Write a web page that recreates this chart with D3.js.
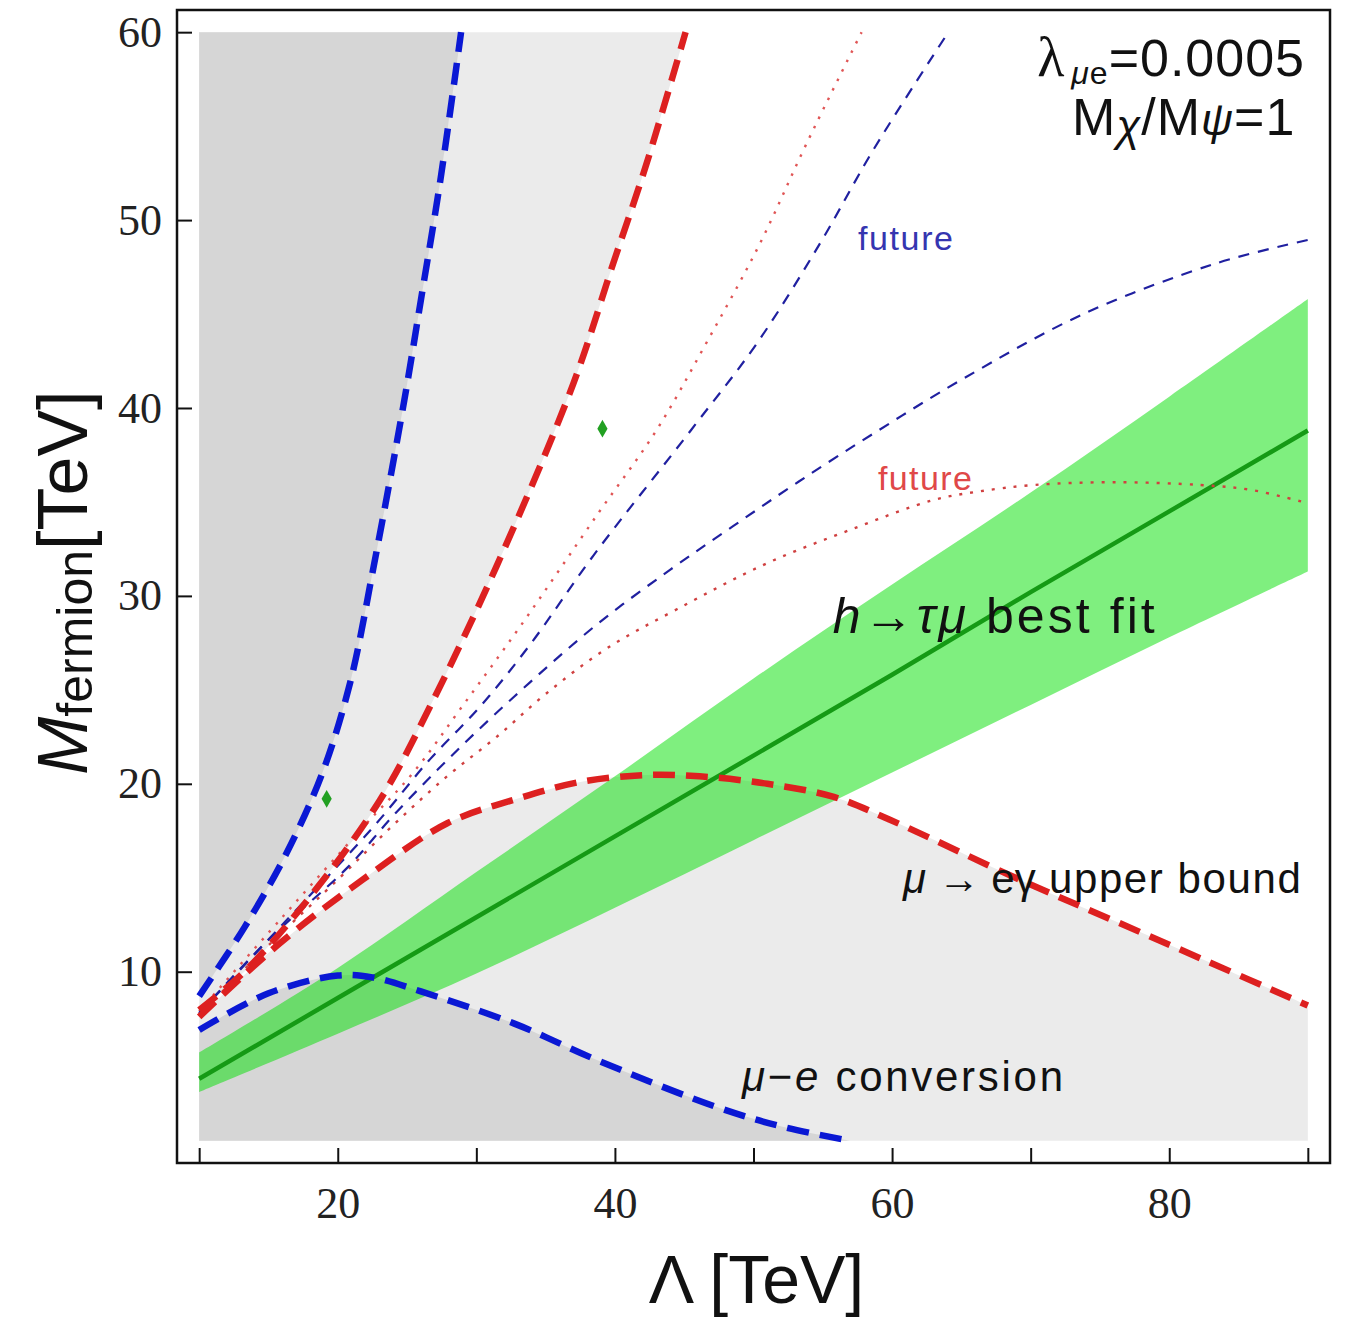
<!DOCTYPE html>
<html>
<head>
<meta charset="utf-8">
<script src="https://cdn.jsdelivr.net/npm/d3@7"></script>
<style>
body { margin: 0; background: #fff; }
svg { display: block; }
.sans { font-family: "Liberation Sans", Arial, sans-serif; }
.serif { font-family: "Liberation Serif", "Times New Roman", serif; }
</style>
</head>
<body>
<div id="chart"></div>
<script>
// ---- data (Lambda [TeV], M_fermion [TeV]) ----
const xTicks = [10, 20, 30, 40, 50, 60, 70, 80, 90];
const xTickLabels = [20, 40, 60, 80];
const yTicks = [10, 20, 30, 40, 50, 60];

// h -> tau mu best fit band
const bandLambda = [10, 20, 30, 40, 50, 60, 70, 80, 90];
const bandLow = [3.6, 6.7, 9.9, 13.4, 17.0, 20.6, 24.2, 27.8, 31.3];
const bandHigh = [5.7, 10.2, 15.3, 20.4, 25.6, 30.6, 35.5, 40.6, 45.8];
const bestFit = [4.3, 8.6, 12.9, 17.2, 21.5, 25.8, 30.2, 34.5, 38.8];

// mu-e conversion (thick blue)
const muEUpper = [[10, 8.7], [13.3, 12.4], [16.3, 16.3], [18.9, 20.6], [20.9, 25.4], [22.6, 31.6],
    [24.8, 40.4], [26.0, 45.75], [27.4, 52.1], [28.9, 60]];
const muELower = [[10, 6.9], [15, 8.85], [20, 9.8], [22.5, 9.7], [26, 8.95], [32.7, 7.25],
    [38.7, 5.3], [47.3, 2.81], [52.1, 1.75], [57, 1.0]];

// mu -> e gamma upper bound (thick red)
const megUpper = [[10, 7.96], [13.4, 10.1], [18.2, 14.17], [23.05, 19.14], [26.65, 24.1], [31.47, 31.6],
    [37.0, 41.3], [39.88, 47.7], [42.29, 53.02], [45.1, 60]];
const megLower = [[10, 7.6], [15.8, 11.5], [21.8, 14.9], [27.9, 17.9], [32.7, 19.15], [37.5, 20.1],
    [42.3, 20.47], [46.1, 20.4], [51, 20.0], [55.8, 19.3], [59.8, 18.1], [69.2, 14.9],
    [75.9, 12.75], [82.6, 10.6], [90, 8.2]];

// future sensitivities
const megFutureUpper = [[10, 7.9], [16, 12.9], [21.84, 17.7], [25.45, 20.6], [29.06, 24.2], [33.15, 28.36],
    [38.8, 34.4], [43.01, 38.83], [46.7, 43.6], [50.47, 48.76], [53.84, 54.09], [57.8, 60]];
const megFutureLower = [[10, 7.7], [15, 11.4], [20, 14.9], [24, 17.8], [27.86, 20.38], [31.47, 22.5],
    [35.07, 24.82], [39.4, 27.2], [44.5, 29.3], [50.95, 31.73], [56.96, 33.51], [62.97, 35.1],
    [66.1, 35.54], [70.19, 35.9], [76, 36.05], [82.27, 35.9], [86, 35.63], [90, 34.93]];
const muEFutureUpper = [[10, 7.8], [16, 12.5], [22.56, 17.7], [26.65, 21.3], [30.26, 24.1], [33.87, 27.4],
    [38.5, 32.2], [45.5, 38.83], [50.3, 43.5], [54.8, 48.76], [58.64, 53.73], [64.06, 60]];
const muEFutureLower = [[10, 7.8], [15, 11.7], [20.64, 15.5], [24.25, 18.5], [29.06, 22.1], [33.87, 25.4],
    [38.8, 28.54], [44, 31.4], [48.5, 33.7], [53.3, 36.1], [59, 38.8], [65, 41.5],
    [73.8, 45.0], [83.4, 47.7], [90, 48.94]];

const markers = [[19.2, 19.2], [39.1, 38.9]];

// ---- layout ----
const width = 1345, height = 1322;
const frame = { left: 177, top: 10, right: 1330, bottom: 1163 };
const x = d3.scaleLinear().domain([8.4, 91.6]).range([frame.left, frame.right]);
const y = d3.scaleLinear().domain([-0.18, 61.18]).range([frame.bottom, frame.top]);

const svg = d3.select('#chart').append('svg')
    .attr('width', width)
    .attr('height', height);

svg.append('defs').append('clipPath').attr('id', 'plot-clip')
    .append('rect')
    .attr('x', frame.left).attr('y', frame.top)
    .attr('width', frame.right - frame.left)
    .attr('height', frame.bottom - frame.top);

const plot = svg.append('g').attr('clip-path', 'url(#plot-clip)');

const line = d3.line()
    .x(d => x(d[0]))
    .y(d => y(d[1]))
    .curve(d3.curveCatmullRom.alpha(0.5));

// excluded regions: light = mu -> e gamma, dark = mu-e conversion
const light = '#ebebeb', dark = '#d6d6d6';
plot.append('path')
    .attr('d', line(megUpper) + `L${x(10)},${y(60)}Z`)
    .attr('fill', light);
plot.append('path')
    .attr('d', line(megLower) + `L${x(90)},${y(1)}L${x(10)},${y(1)}Z`)
    .attr('fill', light);
plot.append('path')
    .attr('d', line(muEUpper) + `L${x(10)},${y(60)}Z`)
    .attr('fill', dark);
plot.append('path')
    .attr('d', line(muELower) + `L${x(10)},${y(1)}Z`)
    .attr('fill', dark);

// best fit band
const band = bandLambda.map((l, i) => ({ l, lo: bandLow[i], hi: bandHigh[i], mid: bestFit[i] }));
plot.append('path')
    .datum(band)
    .attr('d', d3.area().x(d => x(d.l)).y0(d => y(d.lo)).y1(d => y(d.hi)).curve(d3.curveCatmullRom.alpha(0.5)))
    .attr('fill', '#00e000')
    .attr('fill-opacity', 0.5);
plot.append('path')
    .datum(band)
    .attr('d', d3.line().x(d => x(d.l)).y(d => y(d.mid)))
    .attr('fill', 'none')
    .attr('stroke', '#159a15')
    .attr('stroke-width', 4.5);

const curves = [
    { data: megFutureUpper, color: '#e05555', width: 2.4, dash: '2.5,8' },
    { data: megFutureLower, color: '#d04040', width: 2.4, dash: '3,8' },
    { data: muEFutureUpper, color: '#2020a0', width: 2.2, dash: '11,9' },
    { data: muEFutureLower, color: '#2020a0', width: 2.2, dash: '11,9' },
    { data: megUpper, color: '#dd2020', width: 6.5, dash: '22,11' },
    { data: megLower, color: '#dd2020', width: 6.5, dash: '22,11' },
    { data: muEUpper, color: '#0a18d4', width: 6.5, dash: '22,11' },
    { data: muELower, color: '#0a18d4', width: 6.5, dash: '22,11' }
];
plot.selectAll('path.curve')
    .data(curves)
    .enter().append('path')
    .attr('class', 'curve')
    .attr('d', d => line(d.data))
    .attr('fill', 'none')
    .attr('stroke', d => d.color)
    .attr('stroke-width', d => d.width)
    .attr('stroke-dasharray', d => d.dash);

plot.selectAll('path.marker')
    .data(markers)
    .enter().append('path')
    .attr('class', 'marker')
    .attr('transform', d => `translate(${x(d[0])},${y(d[1])})`)
    .attr('d', d3.symbol().type(d3.symbolDiamond).size(90))
    .attr('fill', '#22a022');

// ---- axes ----
const xAxis = svg.append('g')
    .attr('transform', `translate(0,${frame.bottom})`)
    .call(d3.axisBottom(x).tickValues(xTicks).tickSize(-15).tickPadding(24)
        .tickFormat(d => xTickLabels.includes(d) ? d : ''));
const yAxis = svg.append('g')
    .attr('transform', `translate(${frame.left},0)`)
    .call(d3.axisLeft(y).tickValues(yTicks).tickSize(-15).tickPadding(15));

[xAxis, yAxis].forEach(g => {
    g.select('.domain').remove();
    g.selectAll('.tick line').attr('stroke', '#111').attr('stroke-width', 2);
    g.selectAll('.tick text')
        .attr('class', 'serif')
        .attr('font-size', 44)
        .attr('fill', '#222');
});

svg.append('rect')
    .attr('x', frame.left).attr('y', frame.top)
    .attr('width', frame.right - frame.left)
    .attr('height', frame.bottom - frame.top)
    .attr('fill', 'none')
    .attr('stroke', '#111')
    .attr('stroke-width', 2.5);

// axis titles
svg.append('text')
    .attr('class', 'sans')
    .attr('x', (x(10) + x(90)) / 2 + 3)
    .attr('y', 1303)
    .attr('text-anchor', 'middle')
    .attr('font-size', 68)
    .attr('fill', '#111')
    .text('Λ [TeV]');

const yTitle = svg.append('text')
    .attr('class', 'sans')
    .attr('transform', `translate(87,${y(30.7)}) rotate(-90)`)
    .attr('text-anchor', 'middle')
    .attr('fill', '#111');
yTitle.append('tspan').attr('font-size', 70).attr('font-style', 'italic').text('M');
yTitle.append('tspan').attr('font-size', 50).attr('dy', 5).text('fermion');
yTitle.append('tspan').attr('font-size', 70).attr('dy', -5).text('[TeV]');

// ---- annotations ----
const note = (lam, m, size, color) => svg.append('text')
    .attr('class', 'sans')
    .attr('x', x(lam))
    .attr('y', y(m))
    .attr('font-size', size)
    .attr('fill', color);

note(57.54, 48.4, 34, '#3535b0').attr('textLength', 95).text('future');
note(58.98, 35.63, 34, '#e04848').attr('textLength', 94).text('future');

const fit = note(55.72, 28.0, 50, '#111').attr('textLength', 322);
fit.append('tspan').attr('font-style', 'italic').text('h');
fit.append('tspan').text('→');
fit.append('tspan').attr('font-style', 'italic').text('τμ');
fit.append('tspan').text(' best fit');

const meg = note(60.79, 14.19, 42, '#111');
meg.append('tspan').attr('font-style', 'italic').text('μ');
meg.append('tspan').text(' → e');
meg.append('tspan').text('γ');
meg.append('tspan').attr('textLength', 265).text(' upper bound');

const conv = note(49.17, 3.63, 42, '#111').attr('textLength', 321);
conv.append('tspan').attr('font-style', 'italic').text('μ');
conv.append('tspan').text('−');
conv.append('tspan').attr('font-style', 'italic').text('e');
conv.append('tspan').text(' conversion');

const lam = note(89.8, 57.67, 52, '#111').attr('text-anchor', 'end').attr('letter-spacing', 1);
lam.append('tspan').attr('class', 'serif').attr('font-size', 56).text('λ');
lam.append('tspan').attr('font-size', 32).attr('dx', 6).attr('dy', 8).attr('font-style', 'italic').text('μ');
lam.append('tspan').attr('font-size', 32).text('e');
lam.append('tspan').attr('dy', -8).text('=0.0005');

const ratio = note(89.1, 54.53, 52, '#111').attr('text-anchor', 'end').attr('letter-spacing', 1);
ratio.append('tspan').text('M');
ratio.append('tspan').attr('font-style', 'italic').attr('font-size', 44).attr('dy', 6).text('χ');
ratio.append('tspan').attr('dy', -6).text('/M');
ratio.append('tspan').attr('font-style', 'italic').attr('font-size', 44).text('ψ');
ratio.append('tspan').text('=1');
</script>
</body>
</html>
